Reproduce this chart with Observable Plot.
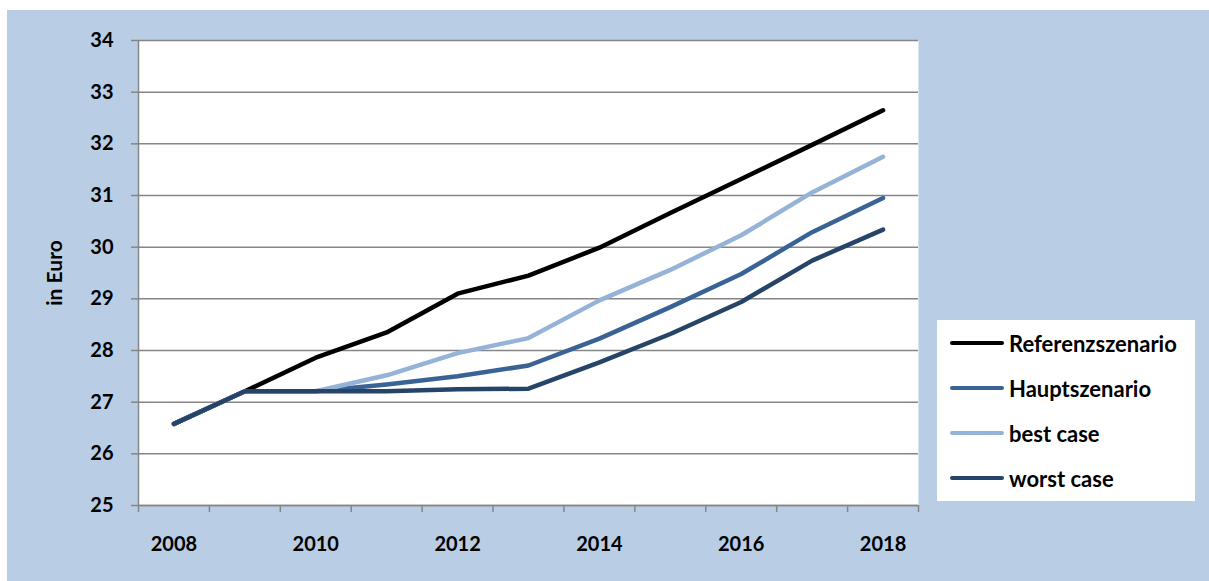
<!DOCTYPE html>
<html>
<head>
<meta charset="utf-8">
<script src="https://cdn.jsdelivr.net/npm/d3@7"></script>
<script src="https://cdn.jsdelivr.net/npm/@observablehq/plot@0.6"></script>
<style>
  body { margin: 0; background: #fff; font-family: Lato, "Open Sans", sans-serif; }
  #wrap { position: relative; padding: 10px 0 0 7px; width: 1202px; }
  #chart svg { display: block; background: #B9CDE5; }
  #legend {
    position: absolute; left: 937px; top: 320px; width: 258px; height: 181px;
    background: #fff; font-weight: bold; font-size: 22px; color: #000;
  }
  .row { position: absolute; left: 0; height: 45px; display: flex; align-items: center; }
  .sw { width: 54px; height: 4px; border-radius: 2px; margin: 0 5px 0 13px; }
</style>
</head>
<body>
<div id="wrap">
  <div id="chart"></div>
  <div id="legend"></div>
</div>
<script>
// Werte
const jahre = [2008, 2009, 2010, 2011, 2012, 2013, 2014, 2015, 2016, 2017, 2018]
const referenz = [26.58, 27.21, 27.86, 28.35, 29.10, 29.45, 29.99, 30.66, 31.32, 31.98, 32.65]
const haupt = [26.58, 27.21, 27.21, 27.34, 27.50, 27.71, 28.23, 28.84, 29.48, 30.29, 30.95]
const best = [26.58, 27.21, 27.21, 27.52, 27.95, 28.24, 28.97, 29.56, 30.23, 31.06, 31.75]
const worst = [26.58, 27.21, 27.21, 27.21, 27.25, 27.26, 27.77, 28.32, 28.94, 29.74, 30.34]

const szenarien = ["Referenzszenario", "Hauptszenario", "best case", "worst case"]
const farben = ["#000000", "#3A6395", "#95B3D7", "#264468"]
const werte = [referenz, haupt, best, worst]

const yTicks = [25, 26, 27, 28, 29, 30, 31, 32, 33, 34]
const xLabels = [2008, 2010, 2012, 2014, 2016, 2018]

// lange Tabelle fuer Plot
let daten = []
szenarien.forEach((s, i) => {
  jahre.forEach((j, k) => daten.push({jahr: j, wert: werte[i][k], szenario: s}))
})

// Kategoriegrenzen wie bei Excel (zwischen den Jahren)
const grenzen = d3.range(jahre[0] - 0.5, jahre[jahre.length - 1] + 1, 1)

const grau = "#868686"

let chart = Plot.plot({
  width: 1202,
  height: 571,
  marginLeft: 131,
  marginRight: 291,
  marginTop: 30,
  marginBottom: 76,
  style: {fontFamily: "Lato, sans-serif", fontWeight: "bold", color: "#000", background: "#B9CDE5"},
  x: {domain: [grenzen[0], grenzen[grenzen.length - 1]]},
  y: {domain: [25, 34]},
  color: {domain: szenarien, range: farben},
  marks: [
    Plot.frame({fill: "white", stroke: "none"}),
    Plot.gridY({ticks: yTicks, stroke: grau, strokeOpacity: 1, strokeWidth: 1.5}),
    Plot.ruleX([grenzen[0]], {stroke: grau, strokeWidth: 1.5}),
    Plot.ruleY([25], {stroke: grau, strokeWidth: 1.5}),
    Plot.axisY({ticks: yTicks, tickSize: 7, tickPadding: 18, stroke: grau, strokeWidth: 1.5,
      fontSize: 20, fontWeight: "bold", label: null}),
    Plot.axisX({ticks: grenzen, tickSize: 7, tickFormat: () => "", stroke: grau, strokeWidth: 1.5, label: null}),
    Plot.axisX({ticks: xLabels, tickSize: 0, tickPadding: 31, tickFormat: "d",
      fontSize: 20, fontWeight: "bold", label: null}),
    Plot.text(["in Euro"], {frameAnchor: "left", textAnchor: "middle", rotate: -90, dx: -83,
      fontSize: 21, fontWeight: "bold", fill: "#000"}),
    Plot.line(daten, {x: "jahr", y: "wert", z: "szenario", stroke: "szenario",
      strokeWidth: 4.5, strokeLinecap: "round", strokeLinejoin: "round"}),
  ],
})

d3.select('#chart').append(() => chart)

// Legende
let legend = d3.select('#legend')
szenarien.forEach((s, i) => {
  let row = legend.append('div').attr('class', 'row').style('top', (0.5 + i * 45) + 'px')
  row.append('div').attr('class', 'sw').style('background', farben[i])
  row.append('span').text(s)
})
</script>
</body>
</html>
